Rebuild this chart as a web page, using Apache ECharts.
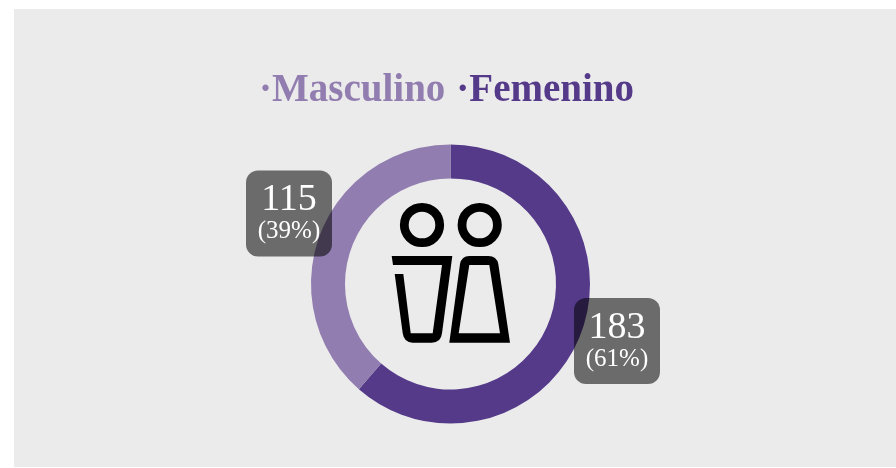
<!DOCTYPE html>
<html>
<head>
<meta charset="utf-8">
<style>
  html, body { margin: 0; padding: 0; background: #fff; }
  #chart { width: 896px; height: 468px; }
</style>
<script src="https://cdn.jsdelivr.net/npm/echarts@6/dist/echarts.min.js"></script>
</head>
<body>
<div id="chart"></div>
<script>
  var categories = ["Femenino", "Masculino"];
  var values = [183, 115];
  var colors = ["#553a8a", "#917daf"];
  var legendOrder = ["Masculino", "Femenino"];

  var serif = '"Liberation Serif", serif';
  var myChart = echarts.init(document.getElementById("chart"));

  // siluetas del icono central
  echarts.graphic.registerShape("manBody", echarts.graphic.extendPath(
    "M391.7 256 L452.3 256 L442 333.3 Q441 342.7 431.7 342.7 L412.7 342.7 Q404 342.7 402.7 333.3 L394.7 274 L403.3 274 L410.7 333.3 L432.7 333.3 L442 265 L393 265 Z"
  ));
  echarts.graphic.registerShape("womanBody", echarts.graphic.extendPath(
    "M449.3 342.7 L460 264 Q461.7 256 469.3 256 L488.3 256 Q496.7 256 498.3 264 L510 342.7 Z M458.7 333.3 L500 333.3 L489.3 265 L469.3 265 Z"
  ));

  var sliceData = categories.map(function (name, i) {
    return { name: name, value: values[i], itemStyle: { color: colors[i] } };
  });

  // centro de cada caja de etiqueta
  var labelCenters = [[617, 341], [289, 213.5]];

  var option = {
    animation: false,
    color: colors,
    legend: {
      top: 71,
      left: 254,
      icon: "none",
      itemWidth: 0,
      itemHeight: 0,
      itemGap: 6,
      padding: 0,
      formatter: "·{name}",
      data: legendOrder.map(function (name) {
        return {
          name: name,
          textStyle: { color: colors[categories.indexOf(name)] }
        };
      }),
      textStyle: {
        fontFamily: serif,
        fontSize: 39,
        fontWeight: "bold",
        padding: 0
      }
    },
    series: [
      {
        type: "pie",
        center: [450.5, 284],
        radius: [105.5, 139.5],
        startAngle: 90,
        clockwise: true,
        silent: true,
        data: sliceData,
        labelLine: { show: false },
        label: {
          show: true,
          position: "outside",
          width: 86,
          padding: [12, 0, 12, 0],
          align: "center",
          verticalAlign: "middle",
          backgroundColor: "rgba(0,0,0,0.545)",
          borderRadius: 12,
          formatter: function (p) {
            return "{v|" + p.value + "}\n{p|(" + Math.round(p.percent) + "%)}";
          },
          rich: {
            v: { fontFamily: serif, fontSize: 38, lineHeight: 36, color: "#fff", align: "center" },
            p: { fontFamily: serif, fontSize: 25, lineHeight: 26, color: "#fff", align: "center" }
          }
        },
        labelLayout: function (p) {
          return {
            x: labelCenters[p.dataIndex][0],
            y: labelCenters[p.dataIndex][1],
            align: "center",
            verticalAlign: "middle",
            hideOverlap: false
          };
        }
      }
    ],
    graphic: [
      // fondo gris
      { type: "rect", z: -10, silent: true, shape: { x: 14, y: 9, width: 882, height: 458 }, style: { fill: "#ebebeb" } },
      // icono: cabezas y cuerpos
      { type: "circle", silent: true, shape: { cx: 422, cy: 225, r: 17.7 }, style: { fill: "none", stroke: "#000", lineWidth: 8.8 } },
      { type: "circle", silent: true, shape: { cx: 479.7, cy: 225, r: 17.7 }, style: { fill: "none", stroke: "#000", lineWidth: 8.8 } },
      { type: "manBody", silent: true, style: { fill: "#000" } },
      { type: "womanBody", silent: true, style: { fill: "#000" } }
    ]
  };

  option && myChart.setOption(option);
</script>
</body>
</html>
